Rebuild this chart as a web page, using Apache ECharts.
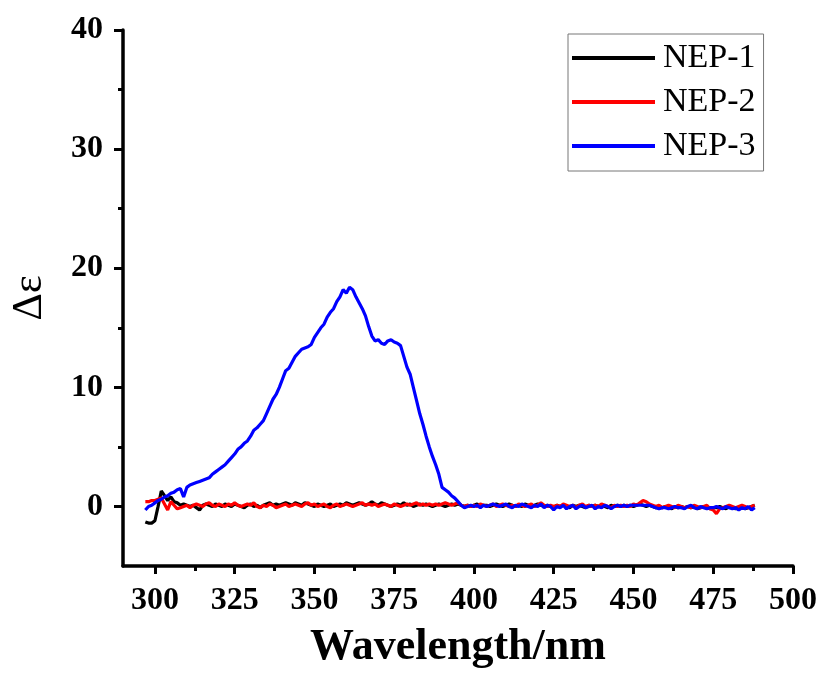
<!DOCTYPE html>
<html>
<head>
<meta charset="utf-8">
<script src="https://cdn.jsdelivr.net/npm/echarts@6/dist/echarts.min.js"></script>
<style>
html,body{margin:0;padding:0;background:#fff;}
#chart{width:824px;height:675px;}
</style>
</head>
<body>
<div id="chart"></div>
<script>
// ---- data ----
const seriesNames = ['NEP-1', 'NEP-2', 'NEP-3'];
const wavelengthStart = 297; // nm, 1 nm step, 297..488
const nep1 = [
  -1.3, -1.4, -1.4, -1.2, 0.0, 1.3, 0.9, 0.5, 0.8, 0.4,
  0.3, 0.1, 0.2, 0.1, 0.0, 0.1, -0.1, -0.3, 0.1, 0.2,
  0.1, 0.0, 0.2, 0.1, 0.0, 0.2, 0.1, 0.0, 0.2, 0.1,
  0.0, -0.1, 0.1, 0.2, 0.0, 0.1, -0.1, 0.1, 0.2, 0.3,
  0.1, 0.2, 0.1, 0.2, 0.3, 0.2, 0.1, 0.3, 0.2, 0.1,
  0.3, 0.2, 0.1, 0.0, 0.2, 0.1, 0.0, 0.1, 0.2, 0.0,
  0.1, 0.2, 0.1, 0.3, 0.2, 0.1, 0.2, 0.3, 0.2, 0.1,
  0.2, 0.4, 0.2, 0.1, 0.3, 0.2, 0.1, 0.0, 0.1, 0.2,
  0.1, 0.3, 0.1, 0.2, 0.0, 0.1, 0.2, 0.1, 0.2, 0.1,
  0.0, 0.1, 0.2, 0.1, 0.0, 0.1, 0.2, 0.1, 0.2, 0.1,
  0.0, 0.1, 0.0, 0.1, 0.2, 0.0, 0.1, 0.1, 0.0, 0.1,
  0.2, 0.1, 0.0, 0.1, 0.2, 0.1, 0.0, 0.1, 0.0, 0.2,
  0.1, 0.0, 0.1, 0.2, 0.1, 0.0, 0.1, 0.0, -0.1, 0.1,
  0.0, 0.1, 0.0, -0.1, 0.1, 0.0, 0.1, 0.0, -0.1, 0.1,
  0.0, 0.1, 0.0, 0.1, 0.0, -0.1, 0.1, 0.0, 0.1, 0.0,
  0.1, 0.0, 0.1, 0.0, 0.1, 0.2, 0.1, 0.0, 0.1, 0.0,
  -0.1, 0.0, -0.1, 0.0, -0.1, -0.2, 0.0, -0.1, 0.0, -0.1,
  0.0, -0.1, 0.0, -0.2, -0.1, 0.0, -0.1, -0.2, -0.1, -0.1,
  0.0, -0.1, -0.2, 0.0, -0.1, -0.2, -0.1, 0.0, -0.2, -0.1,
  0.0, 0.1
];
const nep2 = [
  0.4, 0.4, 0.5, 0.5, 0.6, 0.7, 0.2, -0.3, 0.4, 0.1,
  -0.2, -0.1, 0.0, 0.1, -0.1, 0.1, 0.2, 0.1, 0.0, 0.2,
  0.3, 0.1, 0.0, 0.2, 0.1, 0.0, 0.2, 0.1, 0.3, 0.1,
  0.0, 0.1, 0.2, 0.1, 0.3, 0.0, -0.1, 0.1, 0.0, 0.2,
  0.1, -0.1, 0.0, 0.1, 0.2, 0.0, 0.1, 0.2, 0.1, 0.0,
  0.2, 0.3, 0.1, 0.2, 0.0, 0.1, 0.2, 0.0, -0.1, 0.1,
  0.2, 0.0, 0.1, 0.2, 0.1, 0.0, 0.1, 0.2, 0.3, 0.1,
  0.2, 0.1, 0.2, 0.0, 0.1, 0.2, 0.1, 0.0, 0.2, 0.1,
  0.0, 0.1, 0.2, 0.1, 0.2, 0.3, 0.1, 0.2, 0.1, 0.2,
  0.1, 0.2, 0.1, 0.2, 0.3, 0.2, 0.1, 0.2, 0.3, 0.1,
  0.0, 0.1, 0.0, 0.1, 0.0, 0.2, 0.1, 0.0, 0.1, 0.2,
  0.0, 0.1, 0.2, 0.1, 0.0, 0.1, 0.0, 0.2, 0.1, 0.0,
  0.1, 0.2, 0.0, 0.1, 0.3, 0.1, 0.0, 0.1, 0.0, 0.1,
  0.0, 0.2, 0.1, 0.0, 0.1, -0.1, 0.1, 0.2, 0.0, 0.1,
  0.0, 0.1, 0.0, 0.2, 0.1, 0.0, -0.1, 0.1, 0.0, 0.1,
  0.0, 0.1, 0.0, 0.2, 0.1, 0.3, 0.5, 0.4, 0.2, 0.1,
  0.0, 0.1, -0.1, 0.0, 0.1, 0.0, -0.1, 0.1, 0.0, -0.1,
  0.0, -0.1, 0.1, 0.0, -0.1, 0.0, 0.1, -0.2, -0.3, -0.6,
  -0.2, -0.1, 0.0, 0.1, 0.0, -0.1, 0.0, 0.1, 0.0, -0.1,
  0.0, 0.1
];
const nep3 = [
  -0.3, 0.0, 0.1, 0.3, 0.5, 0.6, 0.8, 0.9, 1.1, 1.2,
  1.4, 1.5, 0.8, 1.6, 1.8, 1.9, 2.0, 2.1, 2.2, 2.3,
  2.4, 2.7, 2.9, 3.1, 3.3, 3.5, 3.8, 4.1, 4.4, 4.8,
  5.0, 5.3, 5.5, 5.9, 6.4, 6.6, 6.9, 7.2, 7.8, 8.4,
  9.0, 9.4, 10.0, 10.7, 11.4, 11.6, 12.1, 12.6, 12.9, 13.2,
  13.3, 13.4, 13.6, 14.2, 14.6, 15.0, 15.3, 15.9, 16.3, 16.6,
  17.2, 17.6, 18.2, 17.9, 18.4, 18.2, 17.6, 17.1, 16.6, 16.0,
  15.1, 14.3, 13.9, 14.0, 13.7, 13.6, 13.9, 14.0, 13.8, 13.7,
  13.5, 12.6, 11.7, 11.1, 10.0, 8.9, 7.8, 6.9, 5.9, 5.0,
  4.2, 3.5, 2.7, 1.6, 1.4, 1.2, 0.9, 0.7, 0.4, 0.1,
  -0.1, 0.0, 0.1, 0.0, 0.1, -0.1, 0.1, 0.0, 0.1, 0.2,
  0.1, 0.0, 0.1, 0.2, 0.0, -0.1, 0.1, 0.0, 0.2, 0.1,
  0.0, -0.1, 0.1, 0.0, 0.2, -0.1, 0.1, 0.0, -0.3, 0.0,
  -0.1, 0.1, -0.2, 0.0, 0.1, -0.2, 0.0, 0.1, -0.1, 0.0,
  0.1, -0.2, 0.0, -0.1, 0.1, 0.0, -0.2, 0.0, 0.1, 0.0,
  0.1, 0.0, 0.1, 0.1, 0.1, 0.1, 0.1, 0.1, 0.1, 0.0,
  -0.1, -0.2, -0.1, -0.1, -0.2, -0.1, 0.0, -0.1, -0.1, -0.2,
  0.0, 0.1, -0.1, -0.2, 0.0, -0.1, -0.2, -0.1, -0.1, 0.0,
  -0.1, -0.2, 0.0, -0.1, -0.2, -0.1, -0.3, -0.1, -0.2, 0.0,
  -0.3, -0.1
];
const xTickLabels = [300, 325, 350, 375, 400, 425, 450, 475, 500];
const xMinorTicks = [312.5, 337.5, 362.5, 387.5, 412.5, 437.5, 462.5, 487.5];
const yTickLabels = [0, 10, 20, 30, 40];
const yMinorTicks = [5, 15, 25, 35];
const colors = ['#000000', '#ff0000', '#0000ff'];

// ---- chart ----
function pairs(vals) {
  return vals.map((v, i) => [wavelengthStart + i, v]);
}
const FONT = 'Liberation Serif';
const chart = echarts.init(document.getElementById('chart'), null, {renderer: 'canvas'});
const option = {
  animation: false,
  backgroundColor: '#ffffff',
  grid: {left: 123, right: 31, top: 30, bottom: 107, containLabel: false},
  legend: {
    data: seriesNames,
    orient: 'vertical',
    left: 568, top: 34,
    icon: 'rect',
    itemWidth: 83, itemHeight: 4, itemGap: 10,
    padding: [7, 8, 8, 4],
    borderColor: '#777', borderWidth: 1,
    textStyle: {fontFamily: FONT, fontSize: 34, color: '#000', lineHeight: 34, padding: [0, 0, 0, 3]}
  },
  xAxis: [{
    type: 'value', min: 290, max: 500, interval: 10, position: 'bottom',
    axisLine: {show: true, onZero: false, lineStyle: {color: '#000', width: 3.5}},
    axisTick: {show: true, customValues: xTickLabels, length: 8, lineStyle: {color: '#000', width: 3}},
    axisLabel: {customValues: xTickLabels, fontFamily: FONT, fontWeight: 'bold', fontSize: 32, color: '#000', margin: 19},
    splitLine: {show: false},
    name: 'Wavelength/nm', nameLocation: 'middle', nameGap: 60,
    nameTextStyle: {fontFamily: FONT, fontWeight: 'bold', fontSize: 44, color: '#000'}
  }, {
    type: 'value', min: 290, max: 500, interval: 10, position: 'bottom', gridIndex: 0,
    axisLine: {show: false, onZero: false},
    axisTick: {show: true, customValues: xMinorTicks, length: 5, lineStyle: {color: '#000', width: 3}},
    axisLabel: {show: false},
    splitLine: {show: false}
  }],
  yAxis: [{
    type: 'value', min: -5, max: 40, interval: 5, position: 'left',
    axisLine: {show: true, onZero: false, lineStyle: {color: '#000', width: 3.5}},
    axisTick: {show: true, customValues: yTickLabels, length: 9, lineStyle: {color: '#000', width: 3}},
    axisLabel: {customValues: yTickLabels, fontFamily: FONT, fontWeight: 'bold', fontSize: 32, color: '#000', margin: 20},
    splitLine: {show: false},
    name: 'Δε', nameLocation: 'middle', nameGap: 72,
    nameTextStyle: {fontFamily: FONT, fontWeight: 'normal', fontSize: 43, color: '#000'}
  }, {
    type: 'value', min: -5, max: 40, interval: 5, position: 'left', gridIndex: 0,
    axisLine: {show: false, onZero: false},
    axisTick: {show: true, customValues: yMinorTicks, length: 5, lineStyle: {color: '#000', width: 3}},
    axisLabel: {show: false},
    splitLine: {show: false}
  }],
  series: [nep1, nep2, nep3].map((vals, i) => ({
    name: seriesNames[i],
    type: 'line',
    data: pairs(vals),
    xAxisIndex: 0, yAxisIndex: 0,
    showSymbol: false,
    symbol: 'none',
    color: colors[i],
    lineStyle: {color: colors[i], width: 3.2},
    emphasis: {disabled: true},
    z: 2 + i
  }))
};
chart.setOption(option);
</script>
</body>
</html>
